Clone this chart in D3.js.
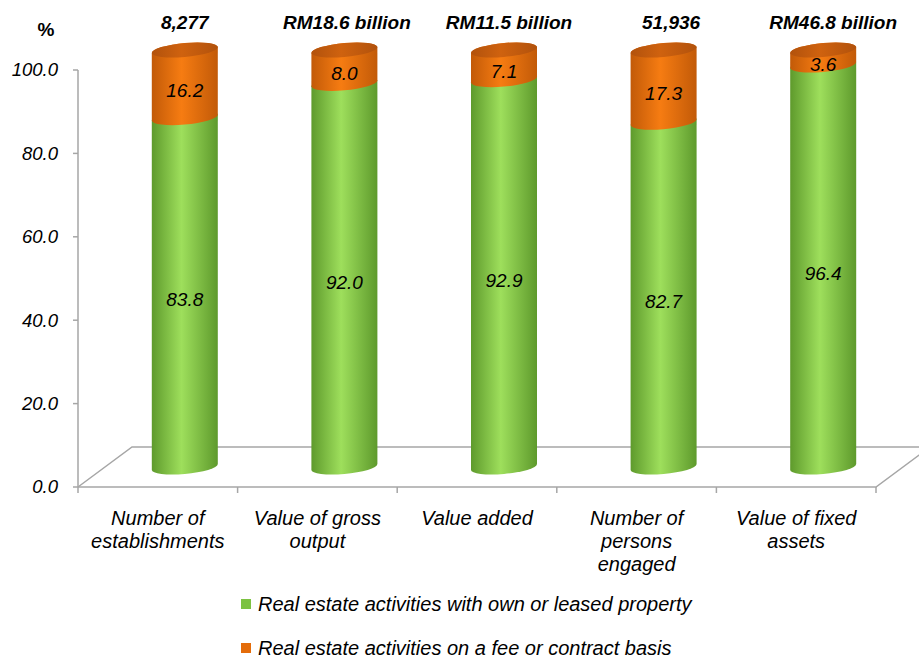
<!DOCTYPE html>
<html>
<head>
<meta charset="utf-8">
<script src="https://cdnjs.cloudflare.com/ajax/libs/d3/7.8.5/d3.min.js"></script>
<style>
  body { margin: 0; background: #fff; }
  text { font-family: "Liberation Sans", Arial, sans-serif; font-style: italic; }
</style>
</head>
<body>
<div id="chart"></div>
<script>
// data
const categories = [
  ["Number of", "establishments"],
  ["Value of gross", "output"],
  ["Value added"],
  ["Number of", "persons", "engaged"],
  ["Value of fixed", "assets"]
];
const ownLeased = [83.8, 92.0, 92.9, 82.7, 96.4];
const feeContract = [16.2, 8.0, 7.1, 17.3, 3.6];
const totals = ["8,277", "RM18.6 billion", "RM11.5 billion", "51,936", "RM46.8 billion"];
const yTicks = [0, 20, 40, 60, 80, 100];
const seriesNames = [
  "Real estate activities with own or leased property",
  "Real estate activities on a fee or contract basis"
];

const width = 919, height = 661;
const svg = d3.select("#chart").append("svg")
  .attr("width", width).attr("height", height);

// 3d floor depth
const depthX = 54, depthY = 40;
const plotLeft = 78, plotRight = 876, plotBottom = 487, plotTop = 70;

const x = d3.scaleBand().domain(d3.range(categories.length)).range([plotLeft, plotRight]);
const y = d3.scaleLinear().domain([0, 100]).range([plotBottom, plotTop]);

// gradients
const defs = svg.append("defs");
function grad(id, edge, mid) {
  const g = defs.append("linearGradient").attr("id", id)
    .attr("x1", 0).attr("x2", 1).attr("y1", 0).attr("y2", 0);
  g.append("stop").attr("offset", "0%").attr("stop-color", edge);
  g.append("stop").attr("offset", "45%").attr("stop-color", mid);
  g.append("stop").attr("offset", "100%").attr("stop-color", edge);
}
grad("gGreen", "#5e9a2c", "#9edf5c");
grad("gOrange", "#c25a08", "#f67c12");
grad("gTop", "#b2520c", "#cf620f");

// floor
const axisColor = "#a6a6a6";
const floor = svg.append("g").attr("stroke", axisColor).attr("stroke-width", 1.5).attr("fill", "none");
floor.append("path").attr("d",
  `M${plotLeft},${plotBottom} L${plotLeft + depthX},${plotBottom - depthY} L${plotRight + depthX},${plotBottom - depthY}`);
floor.append("path").attr("d",
  `M${plotLeft},${plotBottom} L${plotRight},${plotBottom} L${plotRight + depthX},${plotBottom - depthY}`);

// y axis line + ticks
floor.append("line").attr("x1", plotLeft).attr("x2", plotLeft).attr("y1", y(100)).attr("y2", y(0));
svg.append("g").selectAll("line").data(yTicks).join("line")
  .attr("x1", plotLeft - 5).attr("x2", plotLeft)
  .attr("y1", d => y(d)).attr("y2", d => y(d))
  .attr("stroke", axisColor).attr("stroke-width", 1.5);
svg.append("g").selectAll("text").data(yTicks).join("text")
  .attr("x", plotLeft - 20).attr("y", d => y(d))
  .attr("dy", "0.35em")
  .attr("text-anchor", "end")
  .attr("font-size", 18.5)
  .attr("fill", "#000")
  .text(d => d.toFixed(1));

svg.append("text").attr("x", 46).attr("y", 36)
  .attr("text-anchor", "middle").attr("font-size", 19)
  .attr("font-weight", "bold").style("font-style", "normal")
  .text("%");

// category ticks on front edge
svg.append("g").selectAll("line").data(d3.range(categories.length + 1)).join("line")
  .attr("x1", d => plotLeft + d * x.bandwidth()).attr("x2", d => plotLeft + d * x.bandwidth())
  .attr("y1", plotBottom).attr("y2", plotBottom + 6)
  .attr("stroke", axisColor).attr("stroke-width", 1.5);

// cylinders
const rx = 33, ry = 7;
const midX = depthX / 2, midY = depthY / 2;

function sidePath(y0, y1) {
  return `M${-rx},${y1} L${-rx},${y0} A${rx},${ry} 0 0 0 ${rx},${y0} L${rx},${y1} A${rx},${ry} 0 0 0 ${-rx},${y1} Z`;
}

categories.forEach((c, i) => {
  const cx = x(i) + x.bandwidth() / 2 + midX;
  const g = svg.append("g").attr("transform", `translate(${cx},0) skewY(-5)`);
  const yb = y(0) - midY;
  const ym = y(ownLeased[i]) - midY;
  const yt = y(ownLeased[i] + feeContract[i]) - midY;
  g.append("path").attr("d", sidePath(yb, ym)).attr("fill", "url(#gGreen)");
  g.append("path").attr("d", sidePath(ym, yt)).attr("fill", "url(#gOrange)");
  g.append("ellipse").attr("cx", 0).attr("cy", yt).attr("rx", rx).attr("ry", ry)
    .attr("fill", "url(#gTop)");

  // value labels
  svg.append("text").attr("x", cx).attr("y", (yb + ym) / 2 + ry)
    .attr("dy", "0.35em").attr("text-anchor", "middle").attr("font-size", 19)
    .text(ownLeased[i].toFixed(1));
  svg.append("text").attr("x", cx).attr("y", (ym + yt) / 2 + ry)
    .attr("dy", "0.35em").attr("text-anchor", "middle").attr("font-size", 19)
    .text(feeContract[i].toFixed(1));

  // totals on top
  svg.append("text").attr("x", cx + i * 2.5).attr("y", 29)
    .attr("text-anchor", "middle").attr("font-size", 19).attr("font-weight", "bold")
    .text(totals[i]);

  // category label
  const lab = svg.append("text").attr("x", x(i) + x.bandwidth() / 2).attr("y", 525)
    .attr("text-anchor", "middle").attr("font-size", 20);
  c.forEach((line, k) => {
    lab.append("tspan").attr("x", x(i) + x.bandwidth() / 2).attr("dy", k === 0 ? 0 : 23).text(line);
  });
});

// legend
const legColors = ["#7cc242", "#e46c0a"];
const leg = svg.append("g");
seriesNames.forEach((s, i) => {
  const ly = 604 + i * 44;
  leg.append("rect").attr("x", 241).attr("y", ly - 5).attr("width", 10).attr("height", 10)
    .attr("fill", legColors[i]);
  leg.append("text").attr("x", 258).attr("y", ly).attr("dy", "0.35em")
    .attr("font-size", 20).text(s);
});
</script>
</body>
</html>
